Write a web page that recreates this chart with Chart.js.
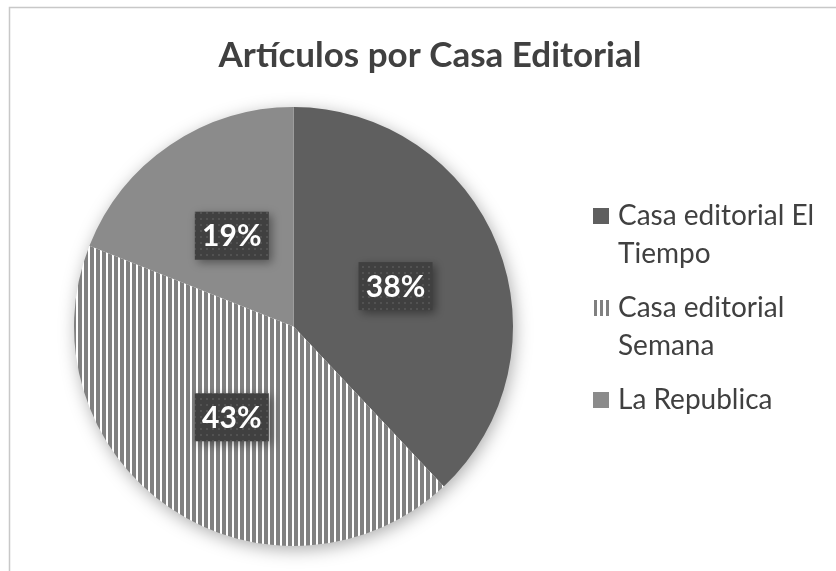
<!DOCTYPE html>
<html>
<head>
<meta charset="utf-8">
<script src="https://cdn.jsdelivr.net/npm/chart.js@4.4.1/dist/chart.umd.min.js"></script>
<style>
  html, body { margin: 0; padding: 0; background: #fff; }
  #wrap { width: 836px; height: 571px; }
</style>
</head>
<body>
<div id="wrap"><canvas id="pie" width="836" height="571"></canvas></div>
<script>
// values
const chartTitle = 'Artículos por Casa Editorial';
const categories = ['Casa editorial El Tiempo', 'Casa editorial Semana', 'La Republica'];
const shares = [38, 43, 19];
const legendLines = [['Casa editorial El', 'Tiempo'], ['Casa editorial', 'Semana'], ['La Republica']];

const FONT = 'Lato, "Open Sans", sans-serif';

function stripes() {
    const c = document.createElement('canvas');
    c.width = 6; c.height = 6;
    const g = c.getContext('2d');
    g.fillStyle = '#ffffff';
    g.fillRect(0, 0, 6, 6);
    g.fillStyle = '#808080';
    g.fillRect(0, 0, 4, 6);
    return g.createPattern(c, 'repeat');
}

function dots() {
    const c = document.createElement('canvas');
    c.width = 6; c.height = 6;
    const g = c.getContext('2d');
    g.fillStyle = '#404040';
    g.fillRect(0, 0, 6, 6);
    g.fillStyle = '#525252';
    g.fillRect(2, 2, 2, 2);
    return g.createPattern(c, 'repeat');
}

const ctx = document.getElementById('pie').getContext('2d');
const sliceFills = ['#5f5f5f', stripes(), '#8b8b8b'];
const boxFill = dots();

const decor = {
    id: 'decor',
    beforeDraw(chart) {
        const c = chart.ctx;
        c.save();
        c.strokeStyle = '#c8c8c8';
        c.lineWidth = 1.5;
        c.strokeRect(9.5, 7.5, 900, 700);
        // title
        c.fillStyle = '#404040';
        c.font = 'bold 35px ' + FONT;
        c.textAlign = 'center';
        c.textBaseline = 'middle';
        c.fillText(chartTitle, 430, 56);
        c.restore();
    },
    beforeDatasetsDraw(chart) {
        const arc = chart.getDatasetMeta(0).data[0];
        const c = chart.ctx;
        c.save();
        c.shadowColor = 'rgba(0,0,0,0.35)';
        c.shadowBlur = 18;
        c.shadowOffsetX = 2;
        c.shadowOffsetY = 4;
        c.fillStyle = '#ffffff';
        c.beginPath();
        c.arc(arc.x, arc.y, arc.outerRadius - 1, 0, Math.PI * 2);
        c.fill();
        c.restore();
    },
    afterDatasetsDraw(chart) {
        const c = chart.ctx;
        const meta = chart.getDatasetMeta(0);
        meta.data.forEach((el, i) => {
            const p = el.tooltipPosition();
            const w = 74, h = 48;
            c.save();
            c.shadowColor = 'rgba(0,0,0,0.4)';
            c.shadowBlur = 10;
            c.shadowOffsetX = 3;
            c.shadowOffsetY = 3;
            c.fillStyle = boxFill;
            c.fillRect(p.x - w / 2, p.y - h / 2, w, h);
            c.restore();
            c.save();
            c.fillStyle = '#ffffff';
            c.font = 'bold 30px ' + FONT;
            c.textAlign = 'center';
            c.textBaseline = 'middle';
            c.fillText(shares[i] + '%', p.x, p.y + 1);
            c.restore();
        });

        // legend
        c.save();
        c.font = '28px ' + FONT;
        c.textBaseline = 'middle';
        let y = 216;
        legendLines.forEach((lines, i) => {
            if (i === 1) {
                c.fillStyle = sliceFills[1];
                c.fillRect(593, y - 8, 4, 16);
                c.fillRect(599, y - 8, 4, 16);
                c.fillRect(605, y - 8, 4, 16);
            } else {
                c.fillStyle = sliceFills[i];
                c.fillRect(593, y - 8, 16, 16);
            }
            c.fillStyle = '#404040';
            lines.forEach((t, k) => c.fillText(t, 618, y + k * 38));
            y += 92;
        });
        c.restore();
    }
};

new Chart(ctx, {
    type: 'pie',
    data: {
        labels: categories,
        datasets: [{
            data: shares,
            backgroundColor: sliceFills,
            borderWidth: 0,
            hoverOffset: 0
        }]
    },
    options: {
        responsive: false,
        animation: false,
        layout: { padding: { left: 73, right: 322, top: 107, bottom: 25 } },
        plugins: {
            legend: { display: false },
            title: { display: false },
            tooltip: { enabled: false }
        }
    },
    plugins: [decor]
});
</script>
</body>
</html>
